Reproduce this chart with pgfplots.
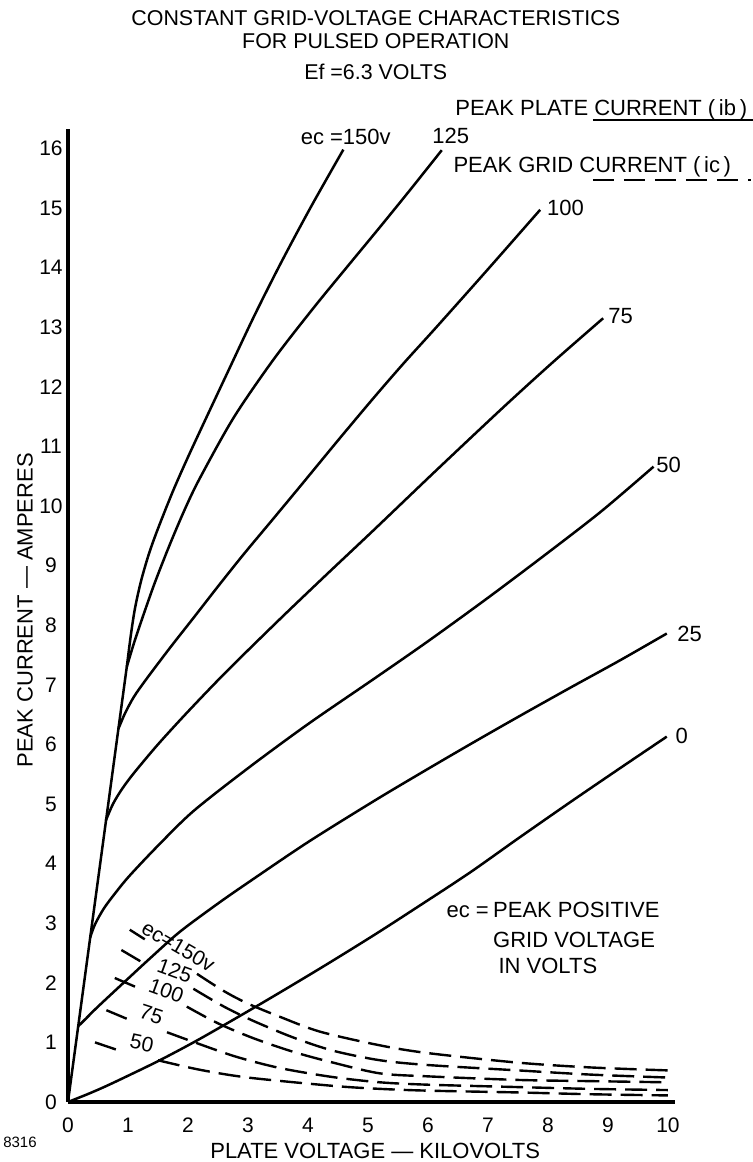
\documentclass[border=0pt]{standalone}
\usepackage{fontspec}
\setmainfont{Liberation Sans}
\usepackage{pgfplots}
\pgfplotsset{compat=1.18}
\newcommand{\lf}{\fontsize{11}{13}\selectfont}
\begin{document}
\begin{tikzpicture}
\begin{axis}[
  x=30pt, y=29.8pt,
  xmin=0, xmax=10.12, ymin=0, ymax=16.32,
  axis x line=bottom, axis y line=left,
  axis line style={-, line width=1.6pt},
  xtick={0,...,10}, ytick={0,...,16},
  major tick length=0pt,
  tick label style={font=\fontsize{10.5}{12}\selectfont},
  /pgf/number format/assume math mode=true,
  xticklabel style={anchor=center, yshift=-11.75pt},
  yticklabel style={anchor=center, xshift=-8.5pt},
  clip=false,
  platec/.style={line width=1.25pt, black, mark=none, smooth, tension=0.5},
  gridc/.style={line width=1.2pt, black, mark=none, dash pattern=on 11pt off 4.5pt, smooth},
]
% common low-voltage line
\addplot[line width=1.25pt, black, mark=none] coordinates {(0,0)(0.98,7.3)};
% peak plate current curves
\addplot[platec] coordinates {(0.98,7.3)(1.05,7.85)(1.12,8.3)(1.22,8.75)(1.35,9.2)(1.5,9.62)(1.75,10.25)(2.0,10.82)(2.3,11.47)(2.65,12.22)(3.1,13.18)(3.55,14.08)(4.05,15.02)(4.59,15.98)};
\addplot[platec] coordinates {(0.98,7.3)(1.1,7.7)(1.25,8.15)(1.45,8.72)(1.7,9.36)(1.95,9.95)(2.2,10.47)(2.76,11.48)(3.42,12.45)(4.09,13.32)(4.7,14.07)(5.2,14.68)(5.7,15.3)(6.23,15.97)};
\addplot[platec] coordinates {(0.84,6.26)(0.95,6.52)(1.1,6.8)(1.31,7.1)(1.7,7.62)(2.09,8.12)(2.5,8.65)(2.92,9.18)(3.4,9.76)(3.87,10.33)(4.5,11.1)(5.1,11.82)(5.6,12.4)(6.14,13.0)(6.98,13.95)(7.87,14.97)};
\addplot[platec] coordinates {(0.63,4.72)(0.75,5.0)(0.9,5.25)(1.1,5.52)(1.5,6.0)(2.0,6.55)(2.64,7.22)(3.53,8.1)(4.31,8.85)(5.1,9.6)(6.14,10.6)(7.26,11.66)(8.09,12.42)(8.92,13.15)};
\addplot[platec] coordinates {(0.37,2.76)(0.45,2.98)(0.6,3.25)(0.8,3.52)(1.03,3.8)(1.5,4.3)(2.09,4.88)(3.0,5.6)(4.0,6.34)(5.1,7.1)(6.0,7.73)(7.0,8.46)(8.03,9.24)(8.9,9.92)(9.76,10.66)};
\addplot[platec] coordinates {(0.17,1.27)(0.3,1.4)(0.5,1.6)(0.98,2.05)(1.4,2.44)(1.87,2.86)(2.5,3.33)(3.0,3.68)(4.0,4.36)(5.1,5.05)(5.9,5.53)(6.7,6.0)(7.5,6.46)(8.37,6.95)(9.2,7.41)(9.98,7.86)};
\addplot[platec] coordinates {(0,0)(0.3,0.12)(0.6,0.25)(0.98,0.43)(1.53,0.7)(2.2,1.06)(3.2,1.64)(4.2,2.24)(5.1,2.8)(5.9,3.32)(6.7,3.85)(7.5,4.42)(8.37,5.03)(9.2,5.6)(9.98,6.13)};
% peak grid current curves (dashed)
\addplot[gridc] coordinates {(1.03,2.89)(1.28,2.73)};
\addplot[gridc] coordinates {(2.15,2.15)(2.6,1.86)(3.0,1.65)(3.53,1.43)(4.2,1.18)(5.2,0.95)(6.0,0.82)(7.5,0.66)(8.7,0.58)(10,0.53)};
\addplot[gridc] coordinates {(0.89,2.55)(1.31,2.30)};
\addplot[gridc] coordinates {(2.09,1.9)(2.6,1.6)(3.09,1.36)(3.76,1.08)(4.42,0.86)(5.2,0.70)(6.0,0.62)(7.5,0.53)(8.7,0.46)(10,0.41)};
\addplot[gridc] coordinates {(0.78,2.08)(1.2,1.9)};
\addplot[gridc] coordinates {(1.98,1.6)(2.5,1.32)(3.09,1.07)(3.76,0.84)(4.42,0.66)(5.2,0.48)(6.0,0.43)(7.5,0.37)(8.7,0.35)(10,0.33)};
\addplot[gridc] coordinates {(0.64,1.54)(1.09,1.35)};
\addplot[gridc] coordinates {(1.65,1.17)(2.14,0.99)(2.8,0.76)(3.53,0.57)(4.4,0.42)(5.2,0.33)(6.0,0.29)(7.5,0.25)(8.7,0.22)(10,0.20)};
\addplot[gridc] coordinates {(0.45,1.0)(0.89,0.85)};
\addplot[gridc] coordinates {(1.5,0.70)(2.2,0.54)(3.0,0.41)(4.42,0.27)(5.2,0.22)(6.0,0.19)(7.5,0.16)(8.7,0.13)(10,0.11)};
% texts
\begin{scope}[every node/.style={inner sep=0pt, font=\lf}]
\node[anchor=base, font=\fontsize{10.7}{12}\selectfont] at (axis cs:5.13,18.07) {CONSTANT GRID-VOLTAGE CHARACTERISTICS};
\node[anchor=base, font=\fontsize{10.7}{12}\selectfont] at (axis cs:5.13,17.68) {FOR PULSED OPERATION};
\node[anchor=base, font=\fontsize{10.7}{12}\selectfont] at (axis cs:5.13,17.15) {Ef =6.3 VOLTS};
\node[anchor=base west] at (axis cs:6.45,16.56) {PEAK PLATE CURRENT (\,ib\,)};
\node[anchor=base west] at (axis cs:6.42,15.59) {PEAK GRID CURRENT (\,ic\,)};
\node[anchor=base] at (axis cs:4.63,16.06) {ec =150v};
\node[anchor=base] at (axis cs:6.38,16.09) {125};
\node[anchor=base west] at (axis cs:7.98,14.88) {100};
\node[anchor=base west] at (axis cs:9.0,13.07) {75};
\node[anchor=base west] at (axis cs:9.8,10.57) {50};
\node[anchor=base west] at (axis cs:10.15,7.72) {25};
\node[anchor=base west] at (axis cs:10.12,6.02) {0};
\node[rotate=-30, font=\fontsize{10.5}{12}\selectfont] at (axis cs:1.84,2.61) {ec=150v};
\node[rotate=-20, font=\fontsize{10.5}{12}\selectfont] at (axis cs:1.78,2.2) {125};
\node[rotate=-20, font=\fontsize{10.5}{12}\selectfont] at (axis cs:1.64,1.87) {100};
\node[rotate=-18, font=\fontsize{10.5}{12}\selectfont] at (axis cs:1.39,1.47) {75};
\node[rotate=-12, font=\fontsize{10.5}{12}\selectfont] at (axis cs:1.23,0.99) {50};
\node[anchor=base east] at (axis cs:7.02,3.09) {ec =};
\node[anchor=base west] at (axis cs:7.08,3.09) {PEAK POSITIVE};
\node[anchor=base west] at (axis cs:7.08,2.60) {GRID VOLTAGE};
\node[anchor=base west] at (axis cs:7.17,2.16) {IN VOLTS};
\node[anchor=base] at (axis cs:5.12,-0.94) {PLATE VOLTAGE — KILOVOLTS};
\node[rotate=90] at (axis cs:-0.717,8.25) {PEAK CURRENT — AMPERES};
\node[anchor=base, font=\fontsize{7.5}{9}\selectfont] at (axis cs:-0.8,-0.77) {8316};
\end{scope}
\draw[line width=1pt] (axis cs:8.75,16.48) -- (axis cs:11.42,16.48);
\draw[line width=1pt, dash pattern=on 10.5pt off 5pt] (axis cs:8.75,15.47) -- (axis cs:11.38,15.47);
\coordinate (bl) at (axis cs:-1.133,-1.007);
\coordinate (tr) at (axis cs:11.417,18.49);
\end{axis}
\pgfresetboundingbox
\path[use as bounding box] (bl) rectangle (tr);
\end{tikzpicture}
\end{document}
